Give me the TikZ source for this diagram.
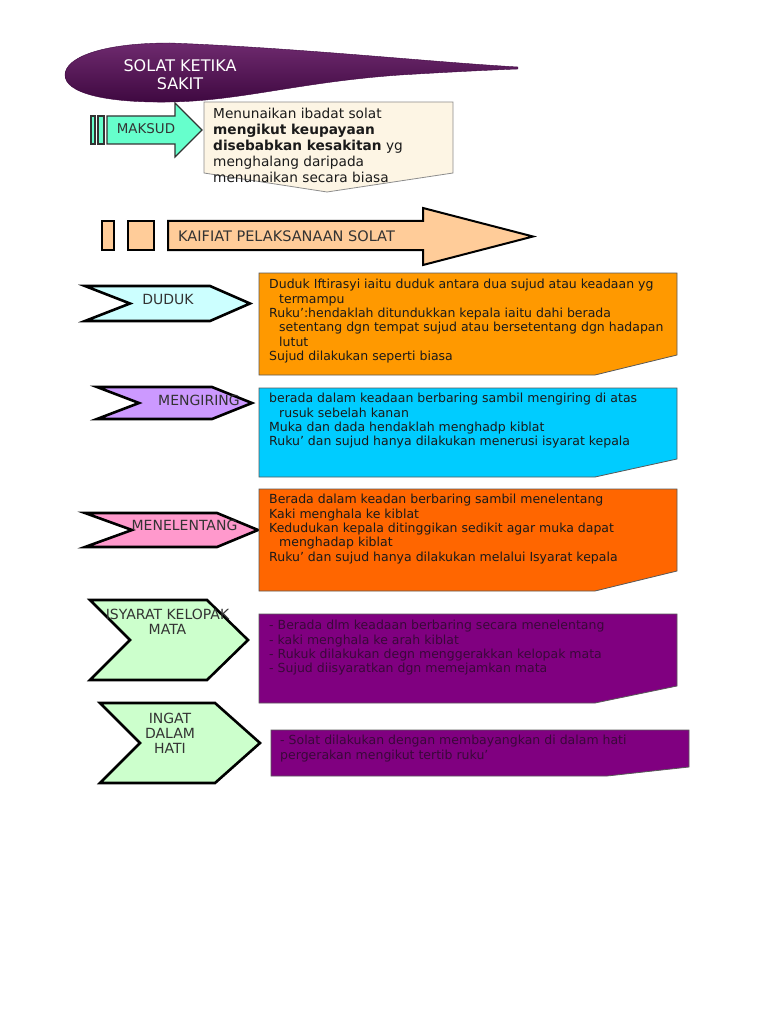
\documentclass[tikz,border=0pt]{standalone}
\usepackage{fontspec}
\setmainfont{DejaVu Sans}
\definecolor{titletop}{HTML}{6E2A6E}
\definecolor{titlebot}{HTML}{3E0840}
\definecolor{maksudgreen}{HTML}{66FFCC}
\definecolor{cream}{HTML}{FDF5E4}
\definecolor{peach}{HTML}{FFCC99}
\definecolor{duduk}{HTML}{CCFFFF}
\definecolor{mengiring}{HTML}{CC99FF}
\definecolor{menelentang}{HTML}{FF99CC}
\definecolor{isyarat}{HTML}{CCFFCC}
\definecolor{orangebox}{HTML}{FF9900}
\definecolor{cyanbox}{HTML}{00CCFF}
\definecolor{redbox}{HTML}{FF6600}
\definecolor{purplebox}{HTML}{800080}
\definecolor{labelgrey}{HTML}{333333}
\definecolor{darktext}{HTML}{1A1A1A}
\definecolor{purpletext}{HTML}{3A083A}
\begin{document}
\begin{tikzpicture}[x=1pt, y=-1pt,
  chev/.style = {draw=black, line width=2.6pt, line join=miter},
  box/.style = {draw=black!65, line width=0.8pt},
  lbl/.style = {font=\fontsize{14}{15}\selectfont, text=labelgrey, align=center, inner sep=0pt},
  body/.style = {font=\fontsize{12.5}{14.4}\selectfont, text=darktext, align=left, anchor=north west, inner sep=0pt}]
\useasboundingbox (0,0) rectangle (768,1024);

% title
\shade[top color=titletop, bottom color=titlebot, draw=titlebot]
  (518,67) .. controls (430,62) and (300,48) .. (170,43)
  .. controls (100,43) and (65,58) .. (65,75)
  .. controls (65,93) and (105,103) .. (170,102)
  .. controls (240,101) and (300,82) .. (400,75)
  .. controls (450,72) and (490,70) .. (518,69) -- cycle;
\node[font=\fontsize{16}{18}\selectfont, text=white, align=center] (title) at (180,75) {SOLAT KETIKA\\SAKIT};

% maksud
\draw[draw=black!80, line width=1.2pt, fill=maksudgreen] (91,116) rectangle (95,144);
\draw[draw=black!80, line width=1.2pt, fill=maksudgreen] (98,116) rectangle (104,144);
\draw[draw=black!80, line width=1.2pt, fill=maksudgreen]
  (107,116) -- (175,116) -- (175,103) -- (202,130) -- (175,157) -- (175,144) -- (107,144) -- cycle;
\node[font=\fontsize{13.4}{15}\selectfont, text=labelgrey] (maksud) at (146,129) {MAKSUD};
\draw[draw=black!45, line width=0.8pt, fill=cream]
  (204,102) -- (453,102) -- (453,173) -- (327,192) -- (204,173) -- cycle;
\node[body, font=\fontsize{13.7}{16}\selectfont] (maksudtxt) at (213,107.5)
  {Menunaikan ibadat solat\\\textbf{mengikut keupayaan}\\\textbf{disebabkan kesakitan} yg\\menghalang daripada\\menunaikan secara biasa};

% kaifiat
\draw[draw=black, line width=2pt, fill=peach] (102,221) rectangle (114,250);
\draw[draw=black, line width=2pt, fill=peach] (128,221) rectangle (154,250);
\draw[draw=black, line width=2pt, fill=peach]
  (168,221) -- (423,221) -- (423,208) -- (533,236.5) -- (423,265) -- (423,250) -- (168,250) -- cycle;
\node[font=\fontsize{14.5}{16}\selectfont, text=labelgrey, anchor=west, inner sep=0pt] (kaifiat) at (178,236) {KAIFIAT PELAKSANAAN SOLAT};

% duduk
\draw[chev, fill=duduk] (85,286) -- (210,286) -- (250,303.5) -- (210,321) -- (85,321) -- (130,303.5) -- cycle;
\node[lbl] (duduklbl) at (168,299) {DUDUK};
\draw[box, fill=orangebox] (259,273) -- (677,273) -- (677,355) -- (595,375) -- (259,375) -- cycle;
\node[body] (duduktxt) at (269,279)
  {Duduk Iftirasyi iaitu duduk antara dua sujud atau keadaan yg\\\hspace*{10pt}termampu\\Ruku’:hendaklah ditundukkan kepala iaitu dahi berada\\\hspace*{10pt}setentang dgn tempat sujud atau bersetentang dgn hadapan\\\hspace*{10pt}lutut\\Sujud dilakukan seperti biasa};

% mengiring
\draw[chev, fill=mengiring] (97,387) -- (212,387) -- (252,403) -- (212,419) -- (97,419) -- (139,403) -- cycle;
\node[lbl] (mengiringlbl) at (199,400) {MENGIRING};
\draw[box, fill=cyanbox] (259,388) -- (677,388) -- (677,459) -- (595,477) -- (259,477) -- cycle;
\node[body] (mengiringtxt) at (269,393)
  {berada dalam keadaan berbaring sambil mengiring di atas\\\hspace*{10pt}rusuk sebelah kanan\\Muka dan dada hendaklah menghadp kiblat\\Ruku’ dan sujud hanya dilakukan menerusi isyarat kepala};

% menelentang
\draw[chev, fill=menelentang] (85,513) -- (217,513) -- (258,530) -- (217,547) -- (85,547) -- (132,530) -- cycle;
\node[lbl] (menelentanglbl) at (184.5,525) {MENELENTANG};
\draw[box, fill=redbox] (259,489) -- (677,489) -- (677,571) -- (595,591) -- (259,591) -- cycle;
\node[body] (menelentangtxt) at (269,494)
  {Berada dalam keadan berbaring sambil menelentang\\Kaki menghala ke kiblat\\Kedudukan kepala ditinggikan sedikit agar muka dapat\\\hspace*{10pt}menghadap kiblat\\Ruku’ dan sujud hanya dilakukan melalui Isyarat kepala};

% isyarat kelopak mata
\draw[chev, fill=isyarat] (90,600) -- (207,600) -- (248,640) -- (207,680) -- (90,680) -- (130,640) -- cycle;
\node[lbl] (isyaratlbl) at (167.5,622) {ISYARAT KELOPAK\\MATA};
\draw[box, fill=purplebox] (259,614) -- (677,614) -- (677,686) -- (595,703) -- (259,703) -- cycle;
\node[body, text=purpletext] (isyarattxt) at (269,620)
  {- Berada dlm keadaan berbaring secara menelentang\\- kaki menghala ke arah kiblat\\- Rukuk dilakukan degn menggerakkan kelopak mata\\- Sujud diisyaratkan dgn memejamkan mata};

% ingat dalam hati
\draw[chev, fill=isyarat] (100,703) -- (215,703) -- (260,743) -- (215,783) -- (100,783) -- (140,743) -- cycle;
\node[lbl] (ingatlbl) at (170,733) {INGAT\\DALAM\\HATI};
\draw[box, fill=purplebox] (271,730) -- (689,730) -- (689,767) -- (607,776) -- (271,776) -- cycle;
\node[body, text=purpletext] (ingattxt) at (280,735)
  {- Solat dilakukan dengan membayangkan di dalam hati\\pergerakan mengikut tertib ruku’};
\end{tikzpicture}
\end{document}
